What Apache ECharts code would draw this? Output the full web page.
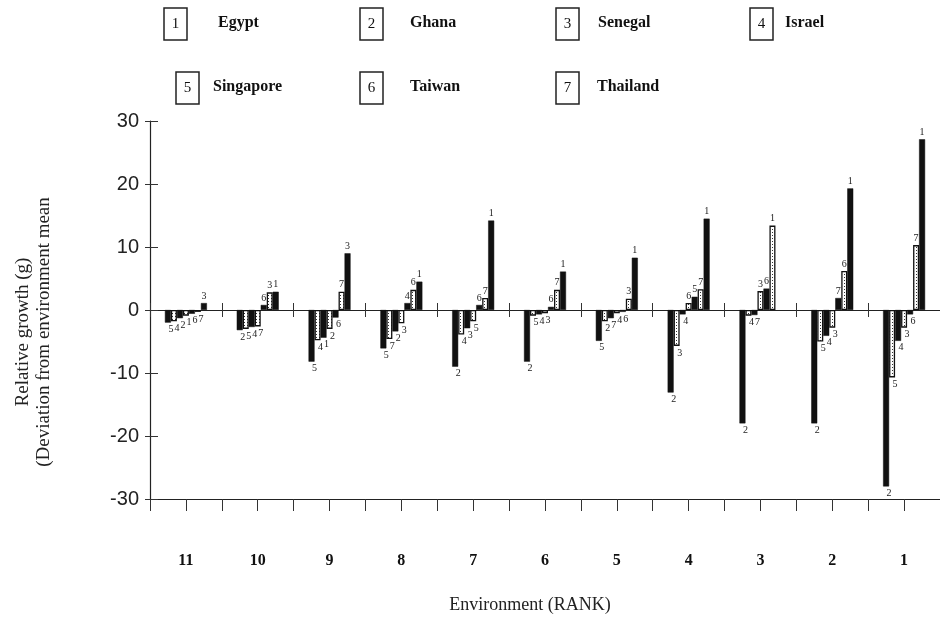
<!DOCTYPE html>
<html><head><meta charset="utf-8">
<script src="https://cdn.jsdelivr.net/npm/echarts@6/dist/echarts.min.js"></script>
<style>html,body{margin:0;padding:0;background:#fff}#c{width:940px;height:620px}</style>
</head><body><div id="c"></div>
<script>
// Environment rank categories (left to right)
const categories = ['11','10','9','8','7','6','5','4','3','2','1'];
const countries = ['Egypt','Ghana','Senegal','Israel','Singapore','Taiwan','Thailand'];
// Relative growth (deviation from environment mean), per country, in category order
const egypt     = [-0.9,  2.9, -4.4,  4.5, 14.2,  6.1,  8.3, 14.5, 13.4, 19.3, 27.1];
const ghana     = [-1.3, -3.2, -3.0, -3.4, -9.0, -8.2, -1.8, -13.1, -18.0, -18.0, -28.0];
const senegal   = [ 1.1,  2.8,  9.0, -2.1, -2.9, -0.5,  1.8, -5.7,  3.0, -2.8, -2.8];
const israel    = [-1.8, -2.7, -4.8,  1.1, -3.9, -0.7, -0.5, -0.7, -0.9, -4.1, -4.9];
const singapore = [-2.0, -3.0, -8.2, -6.1, -1.8, -0.9, -4.9,  2.1, null, -5.0, -10.7];
const taiwan    = [-0.6,  0.8, -1.2,  3.2,  0.8,  0.5, -0.3,  1.1,  3.4,  6.2, -0.7];
const thailand  = [-0.3, -2.6,  2.9, -4.6,  1.9,  3.2, -1.3,  3.3, -0.8,  1.9, 10.3];
const yMin = -30, yMax = 30, yStep = 10;

const values = [egypt, ghana, senegal, israel, singapore, taiwan, thailand];

// hatch pattern
const pc = document.createElement('canvas'); pc.width = 3; pc.height = 3;
const pctx = pc.getContext('2d');
pctx.fillStyle = '#fff'; pctx.fillRect(0,0,3,3);
pctx.fillStyle = '#333'; pctx.fillRect(1,1,1,1);
const blackStyle = {color:'#111', borderColor:'#111', borderWidth:0.5};
const hatchStyle = {color:{image:pc, repeat:'repeat'}, borderColor:'#111', borderWidth:1.3};

const sorted = categories.map((c, g) =>
  values.map((arr, i) => ({country: i + 1, v: arr[g]}))
        .filter(d => d.v !== null)
        .sort((a, b) => a.v - b.v));

const series = [];
for (let k = 0; k < 7; k++) {
  series.push({
    type: 'bar', barWidth: 6, barGap: '0%', xAxisIndex: 0, yAxisIndex: 0,
    animation: false,
    data: sorted.map(list => {
      const d = list[k];
      if (!d) return '-';
      return {value: d.v, country: d.country,
        label: {position: d.v < 0 ? 'bottom' : 'top', offset: d.v < 0 ? [3, 0] : [0, 0]},
        itemStyle: k % 2 === 0 ? blackStyle : hatchStyle};
    }),
    label: {show: true, formatter: p => String(p.data.country), fontFamily: 'Liberation Serif',
      fontSize: 10, color: '#222', distance: 2}
  });
}

const axLine = {lineStyle: {color: '#222', width: 1.2}};
const tickStyle = {color: '#333', width: 1};
const legendBoxes = [[164,8],[360,8],[556,8],[750,8],[176,72],[360,72],[556,72]];
const legendNameX = [218,410,598,785,213,410,597];
const graphic = [];
countries.forEach((name, i) => {
  const [bx, by] = legendBoxes[i];
  graphic.push({type:'rect', shape:{x:bx, y:by, width:23, height:32},
    style:{fill:'#fff', stroke:'#222', lineWidth:1.5}});
  graphic.push({type:'text', x:bx + 11.5, y:by + 16,
    style:{text:String(i + 1), fill:'#111', font:'15px "Liberation Serif"', align:'center', verticalAlign:'middle'}});
  graphic.push({type:'text', x:legendNameX[i], y:by + 15,
    style:{text:name, fill:'#111', font:'bold 16px "Liberation Serif"', align:'left', verticalAlign:'middle'}});
});

const chart = echarts.init(document.getElementById('c'), null, {renderer: 'canvas'});
chart.setOption({
  backgroundColor: '#fff',
  animation: false,
  grid: {left: 150, right: 0, top: 121, height: 378, containLabel: false},
  xAxis: [
    {type:'category', data:categories, position:'bottom',
     axisLine:{onZero:false, ...axLine},
     axisTick:{show:true, interval:0, alignWithLabel:true, length:12, lineStyle:tickStyle},
     axisLabel:{margin:54, interval:0, fontFamily:'Liberation Serif', fontWeight:'bold', fontSize:16, color:'#111'},
     name:'Environment (RANK)', nameLocation:'middle', nameGap:97,
     nameTextStyle:{fontFamily:'Liberation Serif', fontSize:18, color:'#222', padding:[0,30,0,0]}},
    {type:'category', data:categories, position:'bottom',
     axisLine:{show:false, onZero:false},
     axisTick:{show:true, interval:0, length:12, lineStyle:tickStyle}, axisLabel:{show:false}},
    {type:'category', data:categories, position:'bottom',
     axisLine:{show:true, onZero:true, ...axLine},
     axisTick:{show:true, interval:0, length:7, lineStyle:tickStyle}, axisLabel:{show:false}},
    {type:'category', data:categories, position:'bottom',
     axisLine:{show:false, onZero:true},
     axisTick:{show:true, interval:0, inside:true, length:7, lineStyle:tickStyle}, axisLabel:{show:false}}
  ],
  yAxis: [
    {type:'value', min:yMin, max:yMax, interval:yStep, position:'left',
     splitLine:{show:false}, axisLine:{show:true, onZero:false, ...axLine},
     axisTick:{show:true, length:5, lineStyle:tickStyle},
     axisLabel:{margin:11, fontFamily:'Liberation Sans', fontSize:20, color:'#222'},
     name:'Relative growth (g)\n(Deviation from environment mean', nameLocation:'middle', nameGap:95, nameRotate:90,
     nameTextStyle:{fontFamily:'Liberation Serif', fontSize:19, lineHeight:21, color:'#222', padding:[0,44,0,0]}},
    {type:'value', min:yMin, max:yMax, interval:yStep, position:'left',
     splitLine:{show:false}, axisLine:{show:false},
     axisTick:{show:true, inside:true, length:8, lineStyle:tickStyle},
     axisLabel:{show:false}}
  ],
  series: series,
  graphic: graphic
});
</script></body></html>
